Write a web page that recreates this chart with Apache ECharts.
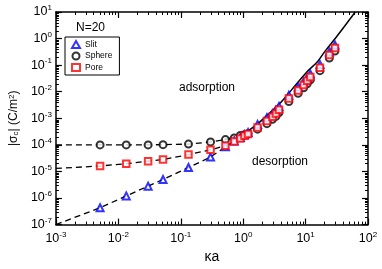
<!DOCTYPE html>
<html><head><meta charset="utf-8">
<script src="https://cdn.jsdelivr.net/npm/echarts@6/dist/echarts.min.js"></script>
<style>html,body{margin:0;padding:0;background:#fff}#c{width:382px;height:269px}</style>
</head><body><div id="c"></div>
<script>
// kappa*a values of the simulation points
const kappaA = [0.0051, 0.0134, 0.030, 0.052, 0.133, 0.30, 0.52, 0.72, 0.9, 1.05, 1.2, 1.7, 2.4, 2.95, 3.35, 3.75, 5.4, 7.6, 9.3, 10.6, 11.9, 17, 24, 29.5];
const slit   = [4.3e-7, 1.2e-6, 2.8e-6, 5.0e-6, 1.4e-5, 3.5e-5, 8.5e-5, 1.4e-4, 1.9e-4, 2.4e-4, 2.9e-4, 5.9e-4, 1.05e-3, 1.5e-3, 2.0e-3, 2.8e-3, 7.3e-3, 1.5e-2, 2.4e-2, 3.4e-2, 4.7e-2, 0.105, 0.31, 0.57];
const sphere = [1.0e-4, 1.0e-4, 1.0e-4, 1.02e-4, 1.07e-4, 1.29e-4, 1.58e-4, 1.81e-4, 2.25e-4, 2.4e-4, 2.6e-4, 3.9e-4, 6.3e-4, 9.2e-4, 1.2e-3, 1.65e-3, 4.3e-3, 8.8e-3, 1.4e-2, 2.0e-2, 2.8e-2, 6.2e-2, 0.185, 0.34];
const pore   = [1.6e-5, 1.96e-5, 2.44e-5, 2.8e-5, 4.3e-5, 6.5e-5, 9.3e-5, 1.35e-4, 1.75e-4, 2.2e-4, 2.55e-4, 4.5e-4, 7.9e-4, 1.14e-3, 1.5e-3, 2.1e-3, 5.5e-3, 1.12e-2, 1.8e-2, 2.6e-2, 3.6e-2, 8.0e-2, 0.24, 0.44];
// dashed low-kappa fits
const fitX      = [0.001, 0.0051, 0.0134, 0.030, 0.052, 0.133, 0.30, 0.52, 0.72];
const fitSlit   = [1.0e-7, 4.3e-7, 1.2e-6, 2.8e-6, 5.0e-6, 1.4e-5, 3.5e-5, 8.5e-5, 1.4e-4];
const fitSphere = [1.0e-4, 1.0e-4, 1.0e-4, 1.0e-4, 1.02e-4, 1.07e-4, 1.29e-4, 1.58e-4, 1.81e-4];
const fitPore   = [1.3e-5, 1.6e-5, 1.96e-5, 2.44e-5, 2.8e-5, 4.3e-5, 6.5e-5, 9.3e-5, 1.35e-4];
// solid adsorption/desorption boundary
const boundX = [0.5, 1.0, 1.67, 2.5, 3.89, 6, 10.2, 15.6, 20, 32.2, 62.5];
const boundY = [1.6e-4, 2.6e-4, 6.0e-4, 1.39e-3, 3.66e-3, 1.2e-2, 5.2e-2, 0.138, 0.31, 1.27, 10];
// axis ranges / tick decades
const xMin = 0.001, xMax = 100, yMin = 1e-7, yMax = 10;
const xDecades = [-3, -2, -1, 0, 1];
const yDecades = [-7, -6, -5, -4, -3, -2, -1, 0];
const minorMult = [2, 3, 4, 5, 6, 7, 8, 9];

const minorX = [], minorY = [];
xDecades.forEach(k => minorMult.forEach(m => minorX.push([m * Math.pow(10, k), 1])));
yDecades.forEach(k => minorMult.forEach(m => minorY.push([1, m * Math.pow(10, k)])));

const zip = (a, b) => a.map((v, i) => [v, b[i]]);
const FONT = 'Liberation Sans, Arial, Helvetica, sans-serif';
const labelFmt = v => '{b|10}{s|' + Math.round(Math.log10(v)) + '}';
const labelRich = {
  b: { fontSize: 12.5, fontFamily: FONT, color: '#000', lineHeight: 16 },
  s: { fontSize: 8, fontFamily: FONT, color: '#000', verticalAlign: 'top', lineHeight: 9 }
};
const baseAxis = {
  type: 'log', logBase: 10,
  axisLine: { show: true, lineStyle: { color: '#000', width: 1.5 } },
  axisTick: { show: true, inside: true, length: 6, lineStyle: { color: '#000', width: 1.2 } },
  splitLine: { show: false },
  minorTick: { show: false }
};

function minorRender(isX) {
  return function (params, api) {
    const cs = params.coordSys;
    const p = api.coord([api.value(0), api.value(1)]);
    const L = 3;
    const st = { stroke: '#000', lineWidth: 1 };
    if (isX) {
      const x = Math.round(p[0]) + 0.5;
      return { type: 'group', children: [
        { type: 'line', shape: { x1: x, y1: cs.y + cs.height, x2: x, y2: cs.y + cs.height - L }, style: st },
        { type: 'line', shape: { x1: x, y1: cs.y, x2: x, y2: cs.y + L }, style: st }
      ]};
    } else {
      const y = Math.round(p[1]) + 0.5;
      return { type: 'group', children: [
        { type: 'line', shape: { x1: cs.x, y1: y, x2: cs.x + L, y2: y }, style: st },
        { type: 'line', shape: { x1: cs.x + cs.width, y1: y, x2: cs.x + cs.width - L, y2: y }, style: st }
      ]};
    }
  };
}

const chart = echarts.init(document.getElementById('c'), null, { renderer: 'canvas' });
const dashStyle = { color: '#000', width: 1.3, type: [6, 4] };
chart.setOption({
  animation: false,
  backgroundColor: '#fff',
  textStyle: { fontFamily: FONT },
  grid: { left: 50, right: 14, top: 12, bottom: 36.5, containLabel: false },
  xAxis: [
    Object.assign({}, baseAxis, {
      position: 'bottom', min: xMin, max: xMax, splitNumber: 5,
      axisLabel: { show: true, formatter: labelFmt, rich: labelRich, margin: 6 },
      name: 'κa', nameLocation: 'middle', nameGap: 23,
      nameTextStyle: { fontSize: 14, fontFamily: FONT, color: '#000' }
    }),
    Object.assign({}, baseAxis, {
      position: 'top', min: xMin, max: xMax, splitNumber: 5,
      axisLabel: { show: false }
    })
  ],
  yAxis: [
    Object.assign({}, baseAxis, {
      position: 'left', min: yMin, max: yMax, splitNumber: 8,
      axisLabel: { show: true, formatter: labelFmt, rich: labelRich, margin: 4 },
      name: '|σ{sub|c}| (C/m{sup|2})', nameLocation: 'middle', nameGap: 32, nameRotate: 90,
      nameTextStyle: {
        fontSize: 12, fontFamily: FONT, color: '#000',
        rich: {
          sub: { fontSize: 8, fontFamily: FONT, color: '#000', verticalAlign: 'bottom' },
          sup: { fontSize: 8, fontFamily: FONT, color: '#000', verticalAlign: 'top' }
        }
      }
    }),
    Object.assign({}, baseAxis, {
      position: 'right', min: yMin, max: yMax, splitNumber: 8,
      axisLabel: { show: false }
    })
  ],
  legend: {
    data: ['Slit', 'Sphere', 'Pore'],
    orient: 'vertical', left: 65, top: 37,
    borderColor: '#000', borderWidth: 1, padding: [3, 7, 3, 6],
    itemWidth: 8, itemHeight: 7, itemGap: 2.5,
    textStyle: { fontSize: 8.5, fontFamily: FONT, color: '#000', lineHeight: 9 },
    backgroundColor: '#fff'
  },
  graphic: [
    { type: 'text', left: 76, top: 22, style: { text: 'N=20', fontSize: 12, fontFamily: FONT, fill: '#000' } },
    { type: 'text', left: 179, top: 82, style: { text: 'adsorption', fontSize: 12, fontFamily: FONT, fill: '#000' } },
    { type: 'text', left: 252, top: 156, style: { text: 'desorption', fontSize: 12, fontFamily: FONT, fill: '#000' } }
  ],
  series: [
    { type: 'custom', name: 'minorX', silent: true, clip: false, renderItem: minorRender(true), data: minorX, encode: { x: 0, y: 1 }, z: 5 },
    { type: 'custom', name: 'minorY', silent: true, clip: false, renderItem: minorRender(false), data: minorY, encode: { x: 0, y: 1 }, z: 5 },
    { type: 'line', name: 'fitSlit', data: zip(fitX, fitSlit), symbol: 'none', lineStyle: dashStyle, z: 2 },
    { type: 'line', name: 'fitSphere', data: zip(fitX, fitSphere), symbol: 'none', lineStyle: dashStyle, z: 2 },
    { type: 'line', name: 'fitPore', data: zip(fitX, fitPore), symbol: 'none', lineStyle: dashStyle, z: 2 },
    { type: 'line', name: 'boundary', data: zip(boundX, boundY), symbol: 'none', smooth: 0.3, lineStyle: { color: '#000', width: 1.5 }, z: 2 },
    { type: 'scatter', name: 'Sphere', data: zip(kappaA, sphere), symbol: 'emptyCircle', symbolSize: 7,
      itemStyle: { color: '#000', borderColor: '#000', borderWidth: 1.1 }, z: 3 },
    { type: 'scatter', name: 'Slit', data: zip(kappaA, slit), symbol: 'emptyTriangle', symbolSize: 7,
      itemStyle: { color: '#0000ff', borderColor: '#0000ff', borderWidth: 1.1 }, z: 4 },
    { type: 'scatter', name: 'Pore', data: zip(kappaA, pore), symbol: 'emptyRect', symbolSize: 6.5,
      itemStyle: { color: '#ff0000', borderColor: '#ff0000', borderWidth: 1.1 }, z: 5 }
  ]
});
</script>
</body></html>
